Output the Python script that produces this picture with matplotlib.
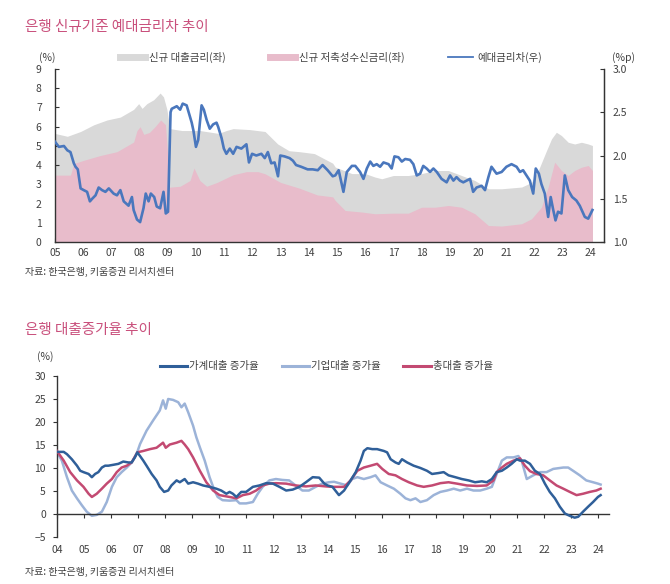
import matplotlib
matplotlib.use('Agg')
import matplotlib.pyplot as plt
from matplotlib.lines import Line2D

plt.rcParams['font.family'] = ['Noto Sans CJK KR', 'DejaVu Sans']
plt.rcParams['axes.unicode_minus'] = True

# ---------------- top chart data ----------------
loan_x = [2005.00, 2005.44, 2005.91, 2006.38, 2006.85, 2007.32, 2007.79, 2007.97, 2008.09, 2008.26,
          2008.50, 2008.73, 2008.85, 2008.97, 2009.08, 2009.50, 2010.14, 2010.80, 2011.08, 2011.32,
          2011.90, 2012.45, 2012.90, 2013.30, 2013.67, 2014.20, 2014.85, 2014.94, 2015.53, 2016.00,
          2016.35, 2016.59, 2017.00, 2017.53, 2018.00, 2018.48, 2018.95, 2019.42, 2019.89, 2020.37,
          2020.84, 2021.55, 2021.90, 2022.14, 2022.43, 2022.61, 2022.78, 2022.96, 2023.20, 2023.43,
          2023.67, 2023.91, 2024.06]
loan_y = [5.65, 5.5, 5.75, 6.1, 6.35, 6.5, 6.9, 7.2, 6.95, 7.2,
          7.4, 7.75, 7.55, 6.9, 5.9, 5.8, 5.8, 5.65, 5.8, 5.9,
          5.85, 5.75, 5.1, 4.75, 4.7, 4.6, 4.1, 3.9, 3.56, 3.56,
          3.38, 3.29, 3.46, 3.46, 3.56, 3.72, 3.72, 3.46, 3.2, 2.77,
          2.77, 2.86, 3.1, 3.72, 4.75, 5.37, 5.71, 5.54, 5.19, 5.1,
          5.19, 5.1, 5.02]

dep_x = [2005.00, 2005.55, 2005.67, 2006.02, 2006.61, 2007.20, 2007.79, 2007.91, 2008.02, 2008.15,
         2008.35, 2008.55, 2008.75, 2008.92, 2009.00, 2009.05, 2009.44, 2009.79, 2009.93, 2010.14,
         2010.38, 2010.75, 2011.32, 2011.79, 2012.20, 2012.45, 2013.00, 2013.67, 2014.30, 2014.85,
         2014.94, 2015.29, 2015.88, 2016.35, 2017.00, 2017.53, 2018.00, 2018.48, 2018.95, 2019.42,
         2019.89, 2020.37, 2020.84, 2021.55, 2021.90, 2022.25, 2022.49, 2022.72, 2022.78, 2022.96,
         2023.20, 2023.43, 2023.67, 2023.91, 2024.06]
dep_y = [3.48, 3.48, 4.08, 4.25, 4.5, 4.7, 5.2, 5.8, 6.0, 5.6,
         5.7, 6.0, 6.35, 6.1, 4.5, 2.85, 2.9, 3.2, 3.85, 3.2,
         2.9, 3.1, 3.5, 3.66, 3.66, 3.55, 3.1, 2.8, 2.45, 2.35,
         2.16, 1.64, 1.56, 1.47, 1.5, 1.5, 1.81, 1.81, 1.9, 1.81,
         1.47, 0.86, 0.83, 0.95, 1.21, 1.81, 2.86, 4.15, 4.05, 3.72,
         3.46, 3.72, 3.89, 3.98, 3.72]

spread_x = [2005.00, 2005.14, 2005.32, 2005.44, 2005.55, 2005.67, 2005.73, 2005.81, 2005.91, 2006.02,
            2006.14, 2006.24, 2006.32, 2006.44, 2006.55, 2006.67, 2006.79, 2006.91, 2007.08, 2007.20,
            2007.32, 2007.44, 2007.61, 2007.73, 2007.79, 2007.91, 2008.02, 2008.14, 2008.22, 2008.32,
            2008.40, 2008.52, 2008.61, 2008.73, 2008.85, 2008.93, 2009.01, 2009.10, 2009.14, 2009.32,
            2009.44, 2009.53, 2009.67, 2009.85, 2009.91, 2010.00, 2010.08, 2010.20, 2010.28, 2010.38,
            2010.49, 2010.61, 2010.73, 2010.79, 2010.91, 2010.99, 2011.08, 2011.20, 2011.32, 2011.44,
            2011.61, 2011.79, 2011.88, 2011.99, 2012.14, 2012.32, 2012.44, 2012.55, 2012.67, 2012.79,
            2012.91, 2012.99, 2013.14, 2013.32, 2013.44, 2013.55, 2013.73, 2013.96, 2014.14, 2014.32,
            2014.49, 2014.67, 2014.85, 2014.94, 2015.06, 2015.23, 2015.35, 2015.53, 2015.65, 2015.82,
            2015.94, 2016.06, 2016.18, 2016.29, 2016.41, 2016.53, 2016.65, 2016.83, 2016.94, 2017.04,
            2017.18, 2017.30, 2017.42, 2017.59, 2017.71, 2017.83, 2017.95, 2018.06, 2018.18, 2018.30,
            2018.42, 2018.54, 2018.71, 2018.89, 2019.01, 2019.13, 2019.24, 2019.36, 2019.48, 2019.60,
            2019.72, 2019.83, 2019.95, 2020.13, 2020.25, 2020.37, 2020.48, 2020.66, 2020.84, 2021.01,
            2021.19, 2021.37, 2021.49, 2021.60, 2021.72, 2021.84, 2021.96, 2022.05, 2022.16, 2022.25,
            2022.37, 2022.49, 2022.58, 2022.67, 2022.75, 2022.84, 2022.96, 2023.08, 2023.20, 2023.34,
            2023.49, 2023.61, 2023.79, 2023.91, 2024.06]
spread_y = [2.16, 2.10, 2.11, 2.06, 2.04, 1.91, 1.87, 1.84, 1.62, 1.60,
            1.58, 1.47, 1.50, 1.54, 1.63, 1.60, 1.58, 1.62, 1.56, 1.54,
            1.60, 1.47, 1.42, 1.52, 1.37, 1.26, 1.23, 1.39, 1.56, 1.47,
            1.56, 1.52, 1.41, 1.39, 1.58, 1.33, 1.35, 2.50, 2.54, 2.57,
            2.53, 2.60, 2.58, 2.38, 2.29, 2.10, 2.18, 2.58, 2.53, 2.41,
            2.31, 2.36, 2.38, 2.33, 2.20, 2.08, 2.02, 2.08, 2.02, 2.10,
            2.08, 2.13, 1.92, 2.02, 2.00, 2.02, 1.97, 2.04, 1.91, 1.92,
            1.76, 2.00, 1.99, 1.97, 1.94, 1.89, 1.87, 1.84, 1.84, 1.83,
            1.89, 1.83, 1.76, 1.77, 1.83, 1.58, 1.81, 1.88, 1.88, 1.81,
            1.73, 1.85, 1.93, 1.88, 1.90, 1.87, 1.92, 1.90, 1.85, 1.99,
            1.98, 1.93, 1.96, 1.95, 1.90, 1.77, 1.79, 1.88, 1.85, 1.81,
            1.85, 1.81, 1.73, 1.69, 1.77, 1.71, 1.75, 1.71, 1.69, 1.71,
            1.73, 1.58, 1.63, 1.65, 1.60, 1.75, 1.87, 1.79, 1.81, 1.87,
            1.90, 1.87, 1.81, 1.83, 1.77, 1.71, 1.56, 1.85, 1.79, 1.67,
            1.56, 1.29, 1.52, 1.37, 1.25, 1.35, 1.33, 1.77, 1.60, 1.52,
            1.48, 1.42, 1.29, 1.27, 1.37]

top_years = list(range(2005, 2025))
top_labels = [f"{y % 100:02d}" for y in top_years]

# ---------------- bottom chart data ----------------
hh_x = [2004.00, 2004.25, 2004.37, 2004.55, 2004.74, 2004.86, 2004.98, 2005.17, 2005.29, 2005.41,
        2005.53, 2005.66, 2005.78, 2005.90, 2006.09, 2006.27, 2006.45, 2006.64, 2006.76, 2006.88,
        2006.97, 2007.07, 2007.19, 2007.31, 2007.50, 2007.68, 2007.80, 2007.96, 2008.11, 2008.23,
        2008.42, 2008.54, 2008.72, 2008.85, 2009.03, 2009.21, 2009.40, 2009.64, 2009.89, 2010.07,
        2010.26, 2010.38, 2010.50, 2010.63, 2010.81, 2010.99, 2011.24, 2011.48, 2011.73, 2011.98,
        2012.22, 2012.47, 2012.71, 2012.96, 2013.20, 2013.45, 2013.69, 2013.88, 2014.00, 2014.18,
        2014.42, 2014.61, 2014.85, 2015.04, 2015.22, 2015.34, 2015.47, 2015.65, 2015.83, 2016.08,
        2016.20, 2016.33, 2016.51, 2016.63, 2016.75, 2016.94, 2017.18, 2017.43, 2017.67, 2017.86,
        2018.10, 2018.29, 2018.47, 2018.72, 2018.96, 2019.21, 2019.45, 2019.70, 2019.88, 2020.07,
        2020.25, 2020.44, 2020.62, 2020.80, 2020.99, 2021.11, 2021.29, 2021.48, 2021.66, 2021.85,
        2022.03, 2022.21, 2022.40, 2022.58, 2022.77, 2022.95, 2023.13, 2023.26, 2023.44, 2023.63,
        2023.81, 2023.99, 2024.09]
hh_y = [13.5, 13.5, 13.0, 11.9, 10.5, 9.4, 9.1, 8.7, 8.0, 8.7,
        9.1, 10.1, 10.5, 10.5, 10.7, 10.9, 11.4, 11.2, 11.2, 12.3,
        13.4, 12.6, 11.6, 10.5, 8.7, 7.3, 5.9, 4.8, 5.1, 6.2,
        7.3, 6.9, 7.6, 6.6, 6.9, 6.6, 6.2, 5.9, 5.5, 5.1,
        4.4, 4.8, 4.4, 3.7, 4.8, 4.8, 5.9, 6.2, 6.7, 6.6,
        5.9, 5.1, 5.3, 5.9, 6.9, 8.0, 7.9, 6.6, 6.2, 5.9,
        4.1, 5.1, 7.3, 9.1, 11.6, 13.7, 14.3, 14.1, 14.1, 13.7,
        13.4, 11.9, 11.2, 10.9, 11.9, 11.2, 10.5, 10.0, 9.4, 8.7,
        8.9, 9.1, 8.4, 8.0, 7.6, 7.3, 6.9, 7.1, 6.9, 7.6,
        9.1, 9.4, 10.1, 10.9, 11.9, 11.6, 11.6, 10.9, 9.4, 8.7,
        6.6, 4.8, 3.4, 1.6, 0.1, -0.4, -0.8, -0.6, 0.5, 1.6,
        2.6, 3.7, 4.1]

cp_x = [2004.00, 2004.18, 2004.37, 2004.55, 2004.74, 2004.92, 2005.10, 2005.29, 2005.47, 2005.66,
        2005.84, 2006.03, 2006.21, 2006.39, 2006.58, 2006.76, 2006.94, 2007.07, 2007.31, 2007.55,
        2007.80, 2007.92, 2008.02, 2008.11, 2008.29, 2008.48, 2008.60, 2008.72, 2008.85, 2009.03,
        2009.15, 2009.28, 2009.46, 2009.64, 2009.82, 2009.94, 2010.12, 2010.38, 2010.63, 2010.75,
        2010.99, 2011.24, 2011.42, 2011.60, 2011.85, 2012.09, 2012.33, 2012.58, 2012.82, 2013.07,
        2013.31, 2013.56, 2013.80, 2014.05, 2014.24, 2014.48, 2014.73, 2014.91, 2015.10, 2015.34,
        2015.59, 2015.77, 2015.96, 2016.20, 2016.45, 2016.69, 2016.88, 2017.06, 2017.25, 2017.43,
        2017.67, 2017.92, 2018.17, 2018.41, 2018.66, 2018.90, 2019.15, 2019.39, 2019.64, 2019.88,
        2020.07, 2020.25, 2020.44, 2020.62, 2020.87, 2021.05, 2021.17, 2021.36, 2021.60, 2021.85,
        2022.09, 2022.34, 2022.71, 2022.89, 2023.07, 2023.32, 2023.56, 2023.81, 2023.99, 2024.09]
cp_y = [13.5, 11.6, 8.0, 5.1, 3.4, 1.9, 0.5, -0.4, -0.2, 0.5,
        2.6, 5.9, 8.0, 9.1, 10.1, 11.2, 13.0, 15.2, 18.1, 20.3,
        22.5, 24.7, 22.9, 25.0, 24.8, 24.3, 23.2, 24.0, 22.1, 19.2,
        16.7, 14.5, 11.6, 8.0, 5.1, 3.7, 3.0, 2.9, 3.0, 2.3,
        2.3, 2.6, 4.4, 5.9, 7.3, 7.6, 7.4, 7.3, 6.2, 5.1,
        5.1, 5.9, 6.6, 6.9, 7.0, 6.6, 6.2, 7.6, 8.0, 7.6,
        8.0, 8.4, 6.9, 6.2, 5.5, 4.4, 3.4, 3.0, 3.4, 2.6,
        3.0, 4.1, 4.8, 5.1, 5.5, 5.1, 5.5, 5.1, 5.1, 5.5,
        5.9, 8.7, 11.6, 12.3, 12.3, 12.6, 11.6, 7.6, 8.4, 9.1,
        9.1, 9.8, 10.1, 10.1, 9.4, 8.4, 7.3, 6.9, 6.6, 6.4]

tt_x = [2004.00, 2004.25, 2004.49, 2004.74, 2004.98, 2005.17, 2005.29, 2005.47, 2005.66, 2005.84,
        2006.03, 2006.21, 2006.39, 2006.58, 2006.76, 2006.97, 2007.19, 2007.44, 2007.68, 2007.92,
        2008.02, 2008.17, 2008.42, 2008.60, 2008.72, 2008.85, 2009.03, 2009.28, 2009.52, 2009.77,
        2010.01, 2010.38, 2010.63, 2010.87, 2011.12, 2011.36, 2011.60, 2011.85, 2012.09, 2012.47,
        2012.82, 2013.20, 2013.56, 2013.93, 2014.18, 2014.61, 2014.85, 2015.10, 2015.34, 2015.59,
        2015.83, 2016.02, 2016.26, 2016.51, 2016.75, 2017.00, 2017.31, 2017.55, 2017.86, 2018.17,
        2018.47, 2018.78, 2019.15, 2019.52, 2019.88, 2020.13, 2020.25, 2020.44, 2020.62, 2020.87,
        2021.11, 2021.29, 2021.48, 2021.72, 2021.97, 2022.21, 2022.46, 2022.71, 2022.95, 2023.20,
        2023.44, 2023.69, 2023.93, 2024.09]
tt_y = [13.7, 11.6, 9.1, 7.3, 5.9, 4.4, 3.7, 4.4, 5.5, 6.6,
        7.6, 9.1, 10.1, 10.5, 11.2, 13.4, 13.7, 14.1, 14.4, 15.5,
        14.4, 15.1, 15.5, 15.9, 15.1, 14.1, 12.3, 9.4, 6.9, 5.1,
        4.1, 3.7, 3.4, 4.1, 4.4, 5.1, 6.2, 6.6, 6.7, 6.6,
        6.2, 6.0, 6.2, 6.0, 5.9, 5.9, 7.3, 9.4, 10.1, 10.5,
        10.9, 9.8, 8.7, 8.4, 7.6, 6.9, 6.2, 5.9, 6.2, 6.7,
        6.9, 6.6, 6.2, 6.1, 6.2, 7.3, 9.1, 10.1, 10.9, 11.6,
        12.1, 10.5, 9.3, 8.7, 8.4, 7.3, 6.2, 5.5, 4.8, 4.1,
        4.4, 4.8, 5.1, 5.5]

bot_years = list(range(2004, 2025))
bot_labels = [f"{y % 100:02d}" for y in bot_years]

# ---------------- styles ----------------
GRAY = '#d9d9d9'
PINK = '#e8bccb'
BLUE = '#4a77bd'
HH_C = '#2f5f99'
CP_C = '#9cb3d8'
TT_C = '#c34a72'
TITLE_C = '#c9507c'
TXT = '#404040'
AX_C = '#333333'
FS = 7.5

fig = plt.figure(figsize=(6.7, 5.84), dpi=100)

# ================= top chart =================
ax1 = fig.add_axes([0.082, 0.5856, 0.8195, 0.2962])
ax1.fill_between(loan_x, 0, loan_y, color=GRAY, lw=0, zorder=1)
ax1.fill_between(dep_x, 0, dep_y, color=PINK, lw=0, zorder=2)
ax1.set_xlim(2005, 2024.47)
ax1.set_ylim(0, 9)
ax1.set_yticks(range(0, 10))
ax1.set_xticks(top_years)
ax1.set_xticklabels(top_labels)
ax1.tick_params(axis='y', direction='in', length=3, pad=9.5, labelsize=FS, colors=TXT, color=AX_C)
ax1.tick_params(axis='x', direction='in', length=3, pad=4, labelsize=FS, colors=TXT, color=AX_C)
ax1.spines['top'].set_visible(False)
for s in ['left', 'bottom', 'right']:
    ax1.spines[s].set_color(AX_C)
    ax1.spines[s].set_linewidth(1.0)

ax1r = ax1.twinx()
ax1r.plot(spread_x, spread_y, color=BLUE, lw=1.9, zorder=3)
ax1r.set_ylim(1.0, 3.0)
ax1r.set_yticks([1.0, 1.5, 2.0, 2.5, 3.0])
ax1r.set_yticklabels(['1.0', '1.5', '2.0', '2.5', '3.0'])
ax1r.tick_params(axis='y', direction='in', length=3, pad=6.5, labelsize=FS, colors=TXT, color=AX_C)
ax1r.spines['top'].set_visible(False)
ax1r.spines['left'].set_visible(False)
ax1r.spines['bottom'].set_visible(False)
ax1r.spines['right'].set_color(AX_C)

fig.text(0.070, 0.902, '(%)', fontsize=FS, color=TXT, ha='center', va='center')
fig.text(0.931, 0.902, '(%p)', fontsize=FS, color=TXT, ha='center', va='center')

h1 = [Line2D([], [], color=GRAY, lw=5),
      Line2D([], [], color=PINK, lw=5),
      Line2D([], [], color=BLUE, lw=1.3)]
fig.legend(h1, ['신규 대출금리(좌)', '신규 저축성수신금리(좌)', '예대금리차(우)'],
           loc='center', bbox_to_anchor=(0.494, 0.902), ncol=3, frameon=False,
           fontsize=FS, handlelength=2.4, handletextpad=0.4, columnspacing=4.2,
           labelcolor=TXT)

fig.text(0.037, 0.954, '은행 신규기준 예대금리차 추이', fontsize=10.5, color=TITLE_C,
         ha='left', va='center')
fig.text(0.037, 0.534, '자료: 한국은행, 키움증권 리서치센터', fontsize=7.2, color=TXT,
         ha='left', va='center')

# ================= bottom chart =================
ax2 = fig.add_axes([0.085, 0.0805, 0.824, 0.2757])
ax2.plot(cp_x, cp_y, color=CP_C, lw=1.8, zorder=2)
ax2.plot(tt_x, tt_y, color=TT_C, lw=1.8, zorder=3)
ax2.plot(hh_x, hh_y, color=HH_C, lw=1.8, zorder=4)
ax2.set_xlim(2004, 2024.4)
ax2.set_ylim(-5, 30)
ax2.set_yticks(range(-5, 31, 5))
ax2.set_xticks(bot_years)
ax2.set_xticklabels(bot_labels)
ax2.spines['top'].set_visible(False)
ax2.spines['right'].set_visible(False)
ax2.spines['bottom'].set_position(('data', 0))
for s in ['left', 'bottom']:
    ax2.spines[s].set_color(AX_C)
    ax2.spines[s].set_linewidth(1.0)
ax2.tick_params(axis='y', direction='out', length=3, pad=5, labelsize=FS, colors=TXT, color=AX_C)
ax2.tick_params(axis='x', direction='out', length=3, pad=19, labelsize=FS, colors=TXT, color=AX_C)

fig.text(0.067, 0.389, '(%)', fontsize=FS, color=TXT, ha='center', va='center')

h2 = [Line2D([], [], color=HH_C, lw=2.2),
      Line2D([], [], color=CP_C, lw=2.2),
      Line2D([], [], color=TT_C, lw=2.2)]
fig.legend(h2, ['가계대출 증가율', '기업대출 증가율', '총대출 증가율'],
           loc='center', bbox_to_anchor=(0.487, 0.373), ncol=3, frameon=False,
           fontsize=FS, handlelength=2.6, handletextpad=0.2, columnspacing=2.2,
           labelcolor=TXT)

fig.text(0.037, 0.435, '은행 대출증가율 추이', fontsize=10.5, color=TITLE_C,
         ha='left', va='center')
fig.text(0.037, 0.0205, '자료: 한국은행, 키움증권 리서치센터', fontsize=7.2, color=TXT,
         ha='left', va='center')

fig.savefig('out.png', dpi=100)
